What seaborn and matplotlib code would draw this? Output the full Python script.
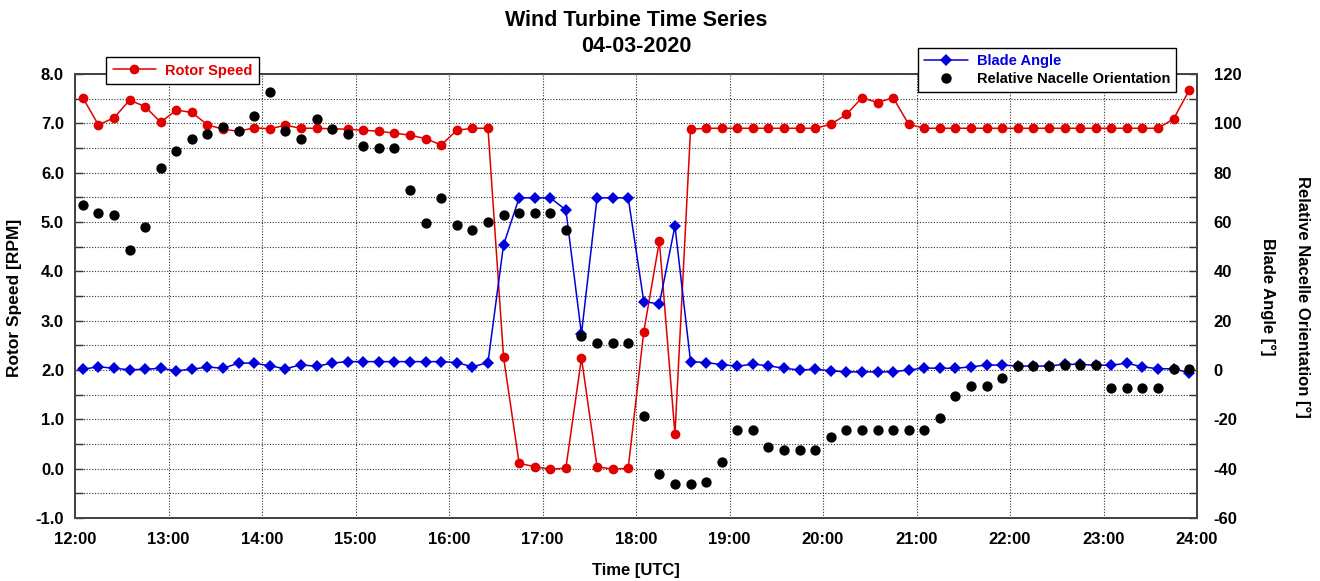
import numpy as np
import pandas as pd
import matplotlib
matplotlib.use("Agg")
import matplotlib.pyplot as plt
from matplotlib.ticker import MultipleLocator, FuncFormatter
from matplotlib.lines import Line2D
import seaborn as sns

sns.set_theme(style="white")
plt.rcParams['font.family'] = ['Liberation Sans', 'DejaVu Sans']
plt.rcParams['font.weight'] = 'bold'
plt.rcParams['text.color'] = 'black'
plt.rcParams['axes.labelcolor'] = 'black'
plt.rcParams['axes.unicode_minus'] = False

# sample times: every 10 min, centred on 12:05 ... 23:55 (hours)
hours = (np.arange(12 * 60 + 5, 24 * 60, 10)) / 60.0

rotor_speed = [7.52, 6.97, 7.11, 7.47, 7.34, 7.02, 7.27, 7.22, 6.97, 6.88,
               6.84, 6.91, 6.89, 6.96, 6.90, 6.90, 6.89, 6.88, 6.86, 6.84,
               6.80, 6.76, 6.69, 6.56, 6.86, 6.90, 6.90, 2.26, 0.11, 0.04,
               -0.01, 0.01, 2.24, 0.04, -0.01, 0.01, 2.78, 4.61, 0.70, 6.88,
               6.90, 6.90, 6.90, 6.90, 6.90, 6.90, 6.90, 6.90, 6.98, 7.18,
               7.52, 7.42, 7.52, 6.98, 6.90, 6.90, 6.90, 6.90, 6.90, 6.90,
               6.90, 6.90, 6.90, 6.90, 6.90, 6.90, 6.90, 6.90, 6.90, 6.90,
               7.09, 7.67]

blade_angle = [0.3, 1.3, 0.7, 0.1, 0.3, 0.7, -0.3, 0.3, 1.2, 0.7,
               2.8, 2.8, 1.7, 0.5, 2.1, 1.5, 2.8, 3.4, 3.4, 3.4,
               3.4, 3.4, 3.4, 3.4, 3.0, 1.3, 3.0, 50.7, 69.8, 69.8,
               69.8, 64.9, 14.6, 69.8, 69.8, 69.8, 27.7, 26.8, 58.4, 3.4,
               3.0, 2.2, 1.5, 2.4, 1.7, 0.7, 0.0, 0.3, -0.3, -0.8,
               -0.7, -0.8, -0.7, 0.0, 0.8, 0.7, 0.7, 1.3, 2.0, 2.0,
               1.6, 1.6, 1.6, 2.3, 2.3, 1.9, 2.0, 2.7, 1.3, 0.5,
               0.5, -1.1]

nacelle = [66.9, 63.8, 62.8, 48.6, 57.8, 81.8, 88.9, 93.8, 95.8, 98.6,
           96.9, 103.0, 112.8, 96.9, 93.8, 101.8, 97.8, 95.8, 90.8, 89.9,
           89.9, 73.0, 59.7, 69.8, 58.9, 56.7, 59.9, 62.8, 63.8, 63.8,
           63.8, 56.7, 13.9, 10.8, 10.8, 10.8, -18.5, -42.2, -46.2, -46.2,
           -45.3, -37.4, -24.3, -24.3, -31.3, -32.4, -32.4, -32.4, -27.3, -24.3,
           -24.3, -24.3, -24.3, -24.3, -24.3, -19.3, -10.4, -6.4, -6.4, -3.4,
           1.6, 1.6, 1.6, 1.9, 1.9, 1.9, -7.3, -7.3, -7.3, -7.3,
           0.4, 0.4]

df = pd.DataFrame({"time": hours, "rotor": rotor_speed,
                   "blade": blade_angle, "nacelle": nacelle})

RED = "#e00000"
BLUE = "#0000dd"

fig = plt.figure(figsize=(13.2, 5.81), dpi=100)
ax = fig.add_axes([75 / 1320, 1 - 518 / 581, 1122 / 1320, 444 / 581])
ax2 = ax.twinx()

sns.lineplot(data=df, x="time", y="rotor", ax=ax, color=RED, marker="o",
             markersize=7, markeredgewidth=0, linewidth=1.1, legend=False)
sns.lineplot(data=df, x="time", y="blade", ax=ax2, color=BLUE, marker="D",
             markersize=6.5, markeredgewidth=0, linewidth=1.1, legend=False)
sns.scatterplot(data=df, x="time", y="nacelle", ax=ax2, color="black",
                s=55, linewidth=0, legend=False, zorder=3)

# axes limits / ticks
ax.set_xlim(12, 24)
ax.set_ylim(-1, 8)
ax2.set_ylim(-60, 120)
ax.xaxis.set_major_locator(MultipleLocator(1))
ax.xaxis.set_major_formatter(FuncFormatter(lambda v, p: f"{int(round(v))}:00"))
ax.yaxis.set_major_locator(MultipleLocator(1))
ax.yaxis.set_minor_locator(MultipleLocator(0.5))
ax.yaxis.set_major_formatter(FuncFormatter(lambda v, p: f"{v:.1f}"))
ax2.yaxis.set_major_locator(MultipleLocator(20))
ax2.yaxis.set_minor_locator(MultipleLocator(10))

ax.grid(which="major", axis="x", linestyle=(0, (1, 1.5)), color="#333333", linewidth=0.8)
ax.grid(which="both", axis="y", linestyle=(0, (1, 1.5)), color="#333333", linewidth=0.8)
ax2.grid(False)

ax.tick_params(axis="both", which="both", direction="in", labelsize=12, colors="#333333",
               labelcolor="black")
ax.tick_params(axis="y", which="both", length=6, width=1, pad=8, left=True)
ax.tick_params(axis="x", which="major", length=0, pad=10)
ax2.tick_params(axis="y", which="both", direction="in", length=6, width=1, pad=12,
                labelsize=12, colors="#333333", labelcolor="black", right=True)
for lab in ax.get_xticklabels() + ax.get_yticklabels() + ax2.get_yticklabels():
    lab.set_fontweight("bold")

for a in (ax, ax2):
    for sp in a.spines.values():
        sp.set_color("#444444")
        sp.set_linewidth(1.4)

ax.set_xlabel("")
ax.set_ylabel("")
ax2.set_ylabel("")

ax.set_title("Wind Turbine Time Series\n04-03-2020", fontsize=15.5, fontweight="bold",
             pad=16, linespacing=1.3, color="black")

fig.text(15 / 1320, 1 - 298 / 581, "Rotor Speed [RPM]", rotation=90, ha="center",
         va="center", fontsize=12.5, fontweight="bold")
fig.text(636 / 1320, 1 - 570 / 581, "Time [UTC]", ha="center", va="center",
         fontsize=12, fontweight="bold")
fig.text(1268 / 1320, 1 - 297 / 581, "Blade Angle [°]", rotation=270, ha="center",
         va="center", fontsize=12, fontweight="bold")
fig.text(1303 / 1320, 1 - 297 / 581, "Relative Nacelle Orientation [°]", rotation=270,
         ha="center", va="center", fontsize=12, fontweight="bold")

# legends
h_rotor = ax.get_lines()[0]
h_blade = ax2.get_lines()[0]
h_nac = Line2D([], [], color="black", marker="o", linestyle="none",
               markersize=7.5, markeredgewidth=0)

leg1 = fig.legend([h_rotor], ["Rotor Speed"], loc="upper left",
                  bbox_to_anchor=(106 / 1320, 1 - 57 / 581), frameon=True,
                  fancybox=False, framealpha=1, edgecolor="black", borderaxespad=0,
                  prop={"weight": "bold", "size": 10.5}, labelcolor=[RED],
                  handlelength=3, borderpad=0.45, handletextpad=0.6)
leg1.get_frame().set_linewidth(1.0)

leg2 = fig.legend([h_blade, h_nac], ["Blade Angle", "Relative Nacelle Orientation"],
                  loc="upper right", bbox_to_anchor=(1176 / 1320, 1 - 48 / 581),
                  frameon=True, fancybox=False, framealpha=1, edgecolor="black",
                  borderaxespad=0,
                  prop={"weight": "bold", "size": 10.5}, labelcolor=[BLUE, "black"],
                  handlelength=3, borderpad=0.4, labelspacing=0.3, handletextpad=0.6)
leg2.get_frame().set_linewidth(1.0)

fig.savefig("out.png", dpi=100)
